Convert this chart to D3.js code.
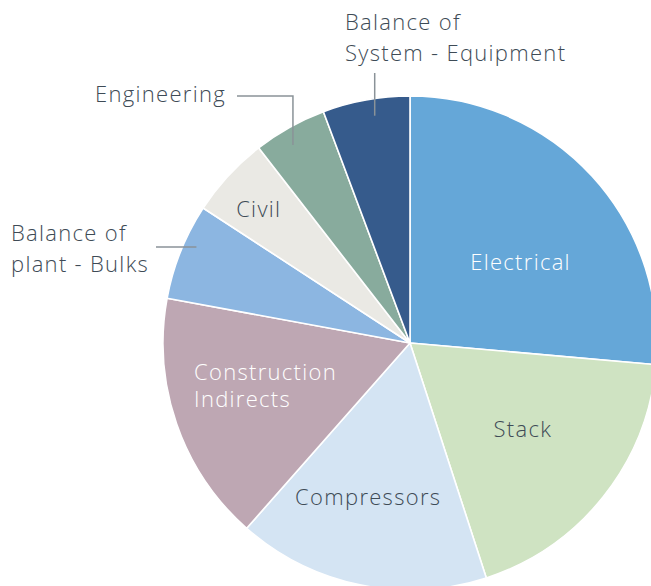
<!DOCTYPE html>
<html>
<head>
<meta charset="utf-8">
<script src="https://cdn.jsdelivr.net/npm/d3@7"></script>
<style>
  html, body { margin: 0; padding: 0; background: #fff; }
  svg { display: block; }
  text { font-family: "Open Sans", Lato, sans-serif; font-weight: 300; letter-spacing: 1.3px; }
</style>
</head>
<body>
<svg id="chart" width="651" height="586"></svg>
<script>
// ---- data ----
const categories = ["Electrical", "Stack", "Compressors", "Construction Indirects",
  "Balance of plant - Bulks", "Civil", "Engineering", "Balance of System - Equipment"];
const shares = [26.4, 18.6, 16.5, 16.4, 6.3, 5.3, 4.8, 5.7];
const colors = ["#65a7d8", "#cfe3c2", "#d4e4f3", "#bea7b3", "#8cb6e1", "#eae9e4", "#88ab9d", "#365b8c"];
const labelLines = [["Electrical"], ["Stack"], ["Compressors"], ["Construction", "Indirects"],
  ["Balance of", "plant - Bulks"], ["Civil"], ["Engineering"], ["Balance of", "System - Equipment"]];

// ---- layout ----
const W = 651, H = 586;
const cx = 410, cy = 343, R = 247;
const fontSize = 22, lineH = 31;
const dark = "#3e4b56";
// inside label placement: radius, angle offset (rad), colour
const inside = {
  0: { r: 137, da: 0.11, fill: "#ffffff" },
  1: { r: 142, da: -0.02, fill: dark },
  2: { r: 160, da: 0.06, fill: dark },
  3: { r: 152, da: 0.05, fill: "#ffffff" },
  5: { r: 202, da: -0.02, fill: dark }
};
// outside labels: text anchor point, leader angle offset and elbow
const outside = {
  7: { tx: 345, ty: 30, anchor: "start", da: 0.025, path: (p) => [[p[0], 73], p] },
  6: { tx: 226, ty: 102, anchor: "end", da: -0.025, path: (p) => [[237, 96], [p[0], 96], p] },
  4: { tx: 11, ty: 241, anchor: "start", da: 0, path: (p) => [[156, 247], [p[0], 247]] }
};

const svg = d3.select("#chart");
const g = svg.append("g").attr("transform", `translate(${cx},${cy})`);

const pie = d3.pie().sort(null).value(d => d)(shares);
const arc = d3.arc().innerRadius(0).outerRadius(R);

g.selectAll("path.slice").data(pie).join("path")
  .attr("class", "slice")
  .attr("d", arc)
  .attr("fill", (d, i) => colors[i])
  .attr("stroke", "#ffffff")
  .attr("stroke-width", 1.6)
  .attr("stroke-linejoin", "round");

// inside labels
pie.forEach((d, i) => {
  if (!inside[i]) return;
  const cfg = inside[i];
  const a = (d.startAngle + d.endAngle) / 2 + cfg.da;
  const x = Math.sin(a) * cfg.r, y = -Math.cos(a) * cfg.r;
  const lines = labelLines[i];
  const t = g.append("text")
    .attr("font-size", fontSize)
    .attr("fill", cfg.fill)
    .attr("text-anchor", lines.length > 1 ? "start" : "middle");
  const x0 = lines.length > 1 ? x - 70 : x;
  lines.forEach((ln, k) => {
    t.append("tspan").attr("x", x0)
      .attr("y", y + 8 + (k - (lines.length - 1) / 2) * 27)
      .text(ln);
  });
});

// outside labels with leader lines
const leadR = 230;
pie.forEach((d, i) => {
  if (!outside[i]) return;
  const cfg = outside[i];
  const a = (d.startAngle + d.endAngle) / 2 + cfg.da;
  const p = [cx + Math.sin(a) * leadR, cy - Math.cos(a) * leadR];
  const pts = cfg.path(p);
  svg.append("path")
    .attr("d", d3.line()(pts))
    .attr("fill", "none")
    .attr("stroke", "#8a9298")
    .attr("stroke-width", 1.5);
  const t = svg.append("text")
    .attr("font-size", fontSize)
    .attr("fill", dark)
    .attr("text-anchor", cfg.anchor);
  labelLines[i].forEach((ln, k) => {
    t.append("tspan").attr("x", cfg.tx).attr("y", cfg.ty + k * lineH).text(ln);
  });
});
</script>
</body>
</html>
